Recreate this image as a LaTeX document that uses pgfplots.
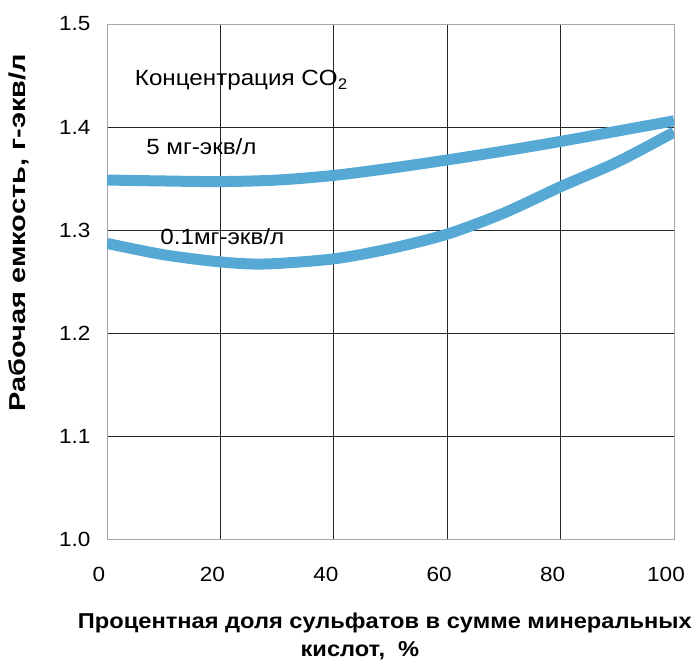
\documentclass[border=0pt]{standalone}
\usepackage{fontspec}
\setmainfont[FakeStretch=1.1]{Liberation Sans}
\newfontfamily\ylabfont[FakeStretch=1.26]{Liberation Sans}
\usepackage{pgfplots}
\pgfplotsset{compat=1.18}
\definecolor{curve}{RGB}{86,169,213}
\begin{document}
\begin{tikzpicture}
\useasboundingbox (0,0) rectangle (693pt,661pt);
\begin{axis}[
  at={(107pt,122pt)}, anchor=south west,
  scale only axis, width=567pt, height=515pt,
  xmin=0, xmax=100, ymin=1.0, ymax=1.5,
  xtick={0,20,40,60,80,100},
  ytick={1.0,1.1,1.2,1.3,1.4,1.5},
  major tick length=0pt,
  grid=major,
  major grid style={black!85, line width=0.9pt},
  axis line style={gray!70, line width=0.9pt},
  /pgf/number format/assume math mode=true,
  tick label style={font=\fontsize{20.5}{24}\selectfont},
  yticklabel style={/pgf/number format/fixed, /pgf/number format/fixed zerofill, /pgf/number format/precision=1, xshift=-13pt},
  xticklabel style={yshift=-25pt, xshift=-8pt},
  xlabel={Процентная доля сульфатов в сумме минеральных\\кислот,\hspace{0.6em}\%\hspace*{50pt}},
  xlabel style={font=\bfseries\fontsize{21.5}{28}\selectfont, align=center, anchor=center, at={(axis description cs:0.49,-0.19)}},
  ylabel={Рабочая емкость, г-экв/л},
  ylabel style={font=\ylabfont\bfseries\fontsize{23}{26}\selectfont, anchor=center, at={(axis description cs:-0.155,0.595)}},
  every axis plot/.append style={line width=11pt, color=curve, line cap=butt},
]
\addplot[smooth] coordinates {
(0,1.3485) (10,1.3476) (20,1.347) (30,1.3485) (40,1.353) (50,1.360) (60,1.368) (70,1.3767) (80,1.386) (90,1.396) (100,1.406)
};
\addplot[smooth] coordinates {
(0,1.287) (10,1.276) (20,1.269) (28,1.267) (40,1.272) (50,1.282) (60,1.296) (70,1.3165) (80,1.342) (90,1.366) (100,1.395)
};
\node[anchor=west, font=\fontsize{22}{24}\selectfont] at (axis cs:4.3,1.4456) {Концентрация CO\textsubscript{2}};
\node[anchor=west, font=\fontsize{22}{24}\selectfont] at (axis cs:6.3,1.381) {5 мг-экв/л};
\node[anchor=west, font=\fontsize{22}{24}\selectfont] at (axis cs:8.8,1.294) {0.1мг-экв/л};
\end{axis}
\end{tikzpicture}
\end{document}
